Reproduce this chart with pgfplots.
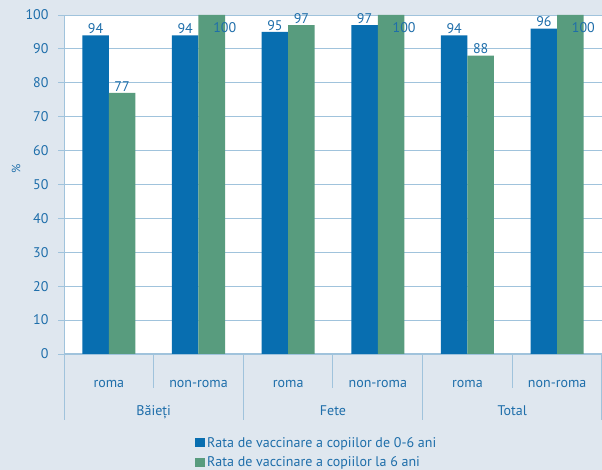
\documentclass[border=0pt]{standalone}
\usepackage{fontspec}
\setmainfont{PT Sans}
\usepackage{pgfplots}
\pgfplotsset{compat=1.18}
\definecolor{bg}{RGB}{223,231,239}
\definecolor{barblue}{RGB}{8,110,176}
\definecolor{bargreen}{RGB}{88,156,126}
\definecolor{txt}{RGB}{30,110,170}
\definecolor{gridc}{RGB}{160,195,220}
\begin{document}
\begin{tikzpicture}
\fill[bg] (0,0) rectangle (602pt,470pt);
\useasboundingbox (0,0) rectangle (602pt,470pt);
\begin{axis}[
  at={(64pt,116pt)}, anchor=south west,
  scale only axis, width=538pt, height=339pt,
  ybar=0pt, bar width=26.5pt,
  xmin=-0.5, xmax=5.5, ymin=0, ymax=100,
  ytick={0,10,...,100},
  xtick={0,1,2,3,4,5},
  xticklabels={roma,non-roma,roma,non-roma,roma,non-roma},
  /pgf/number format/assume math mode=true,
  font=\fontsize{14}{16}\selectfont,
  ticklabel style={text=txt},
  xticklabel style={anchor=base, yshift=-28pt},
  yticklabel style={xshift=-6pt},
  major x tick style={draw=none},
  major y tick style={draw=gridc, line width=0.8pt},
  tick align=outside, major tick length=6pt,
  ymajorgrids, grid style={gridc, line width=0.8pt},
  axis x line*=bottom, axis y line*=left,
  axis line style={gridc, line width=1pt},
  axis background/.style={fill=white},
  ylabel={\%}, ylabel style={text=txt, font=\fontsize{12}{14}\selectfont, at={(axis description cs:-0.089,0.545)}, anchor=center},
  legend style={at={(axis description cs:0.238,-0.233)}, anchor=north west, draw=none, fill=none,
    font=\fontsize{14}{16}\selectfont, text=txt, row sep=4pt, cells={anchor=west}},
  legend image code/.code={\fill[#1] (0pt,-4.5pt) rectangle (10pt,4.5pt);},
  legend cell align=left,
  every node near coord/.append style={text=txt, font=\fontsize{14}{16}\selectfont, inner sep=1.5pt},
  clip=false,
]
\addplot[fill=barblue, draw=none, nodes near coords] coordinates {(0,94) (1,94) (2,95) (3,97) (4,94) (5,96)};
\addlegendentry{Rata de vaccinare a copiilor de 0-6 ani}
\addplot[fill=bargreen, draw=none] coordinates {(0,77) (1,100) (2,97) (3,100) (4,88) (5,100)};
\addlegendentry{Rata de vaccinare a copiilor la 6 ani}
\addplot[fill=none, draw=none, forget plot, bar shift=13.25pt, nodes near coords]
  coordinates {(0,77) (2,97) (4,88)};
\addplot[fill=none, draw=none, forget plot, bar shift=13.25pt, nodes near coords,
  every node near coord/.append style={anchor=north, xshift=13pt, yshift=-6pt}]
  coordinates {(1,100) (3,100) (5,100)};
% separators
\draw[gridc, line width=1pt] (axis cs:0.5,0) -- ++(0pt,-34pt);
\draw[gridc, line width=1pt] (axis cs:2.5,0) -- ++(0pt,-34pt);
\draw[gridc, line width=1pt] (axis cs:4.5,0) -- ++(0pt,-34pt);
\draw[gridc, line width=1pt] (axis cs:-0.5,0) -- ++(0pt,-66pt);
\draw[gridc, line width=1pt] (axis cs:1.5,0) -- ++(0pt,-66pt);
\draw[gridc, line width=1pt] (axis cs:3.5,0) -- ++(0pt,-66pt);
\draw[gridc, line width=1pt] (axis cs:5.5,0) -- ++(0pt,-66pt);
\node[anchor=base, text=txt] at ([yshift=-62pt]axis cs:0.5,0) {Băieți};
\node[anchor=base, text=txt] at ([yshift=-62pt]axis cs:2.5,0) {Fete};
\node[anchor=base, text=txt] at ([yshift=-62pt]axis cs:4.5,0) {Total};
\end{axis}
\end{tikzpicture}
\end{document}
